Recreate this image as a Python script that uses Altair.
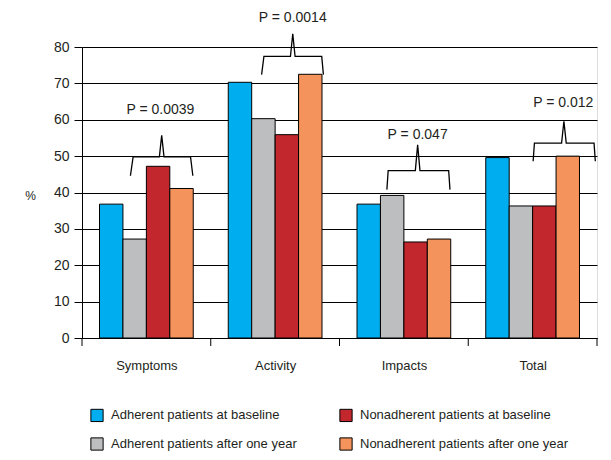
import altair as alt
import pandas as pd

categories = ["Symptoms", "Activity", "Impacts", "Total"]
series = [
    "Adherent patients at baseline",
    "Adherent patients after one year",
    "Nonadherent patients at baseline",
    "Nonadherent patients after one year",
]
adh_base = [36.8, 70.3, 36.8, 49.6]
adh_year = [27.2, 60.3, 39.2, 36.3]
non_base = [47.2, 55.9, 26.4, 36.3]
non_year = [41.1, 72.5, 27.2, 50.0]
colors = ["#00AEEF", "#BCBEC0", "#C1272D", "#F4935B"]

# p-value annotations (x in category units, y in %)
p_labels = ["P = 0.0039", "P = 0.0014", "P = 0.047", "P = 0.012"]
p_text_x = [0.609, 1.637, 2.607, 3.738]
p_text_y = [62.8, 88.0, 55.9, 64.7]
br_end_l = [0.376, 1.395, 2.368, 3.504]
br_hor_l = [0.397, 1.413, 2.378, 3.514]
br_mid = [0.619, 1.637, 2.607, 3.743]
br_hor_r = [0.843, 1.862, 2.848, 3.977]
br_end_r = [0.861, 1.875, 2.858, 3.987]
br_y = [49.8, 77.4, 46.0, 53.6]
br_y_end = [44.6, 72.4, 40.8, 48.6]
br_y_peak = [55.7, 83.6, 53.1, 59.6]

FONT = "Liberation Sans"
TXT = "#231F20"

rows = []
for si, (name, vals) in enumerate(zip(series, [adh_base, adh_year, non_base, non_year])):
    for ci, v in enumerate(vals):
        rows.append({"cat": categories[ci], "ci": ci, "si": si, "series": name, "value": v})
bars_df = pd.DataFrame(rows)

spike = 0.018
brows = []
for i in range(len(p_labels)):
    pts = [
        (br_end_l[i], br_y_end[i]),
        (br_hor_l[i], br_y[i]),
        (br_mid[i] - spike, br_y[i]),
        (br_mid[i], br_y_peak[i]),
        (br_mid[i] + spike, br_y[i]),
        (br_hor_r[i], br_y[i]),
        (br_end_r[i], br_y_end[i]),
    ]
    for k, (x, y) in enumerate(pts):
        brows.append({"b": i, "k": k, "x": x, "y": y})
br_df = pd.DataFrame(brows)
txt_df = pd.DataFrame({"label": p_labels, "x": p_text_x, "y": p_text_y})
sep_df = pd.DataFrame({"x": list(range(len(categories) + 1))})

label_expr = "datum.value < 1 ? 'Symptoms' : datum.value < 2 ? 'Activity' : datum.value < 3 ? 'Impacts' : 'Total'"

xscale = alt.Scale(domain=[0, 4], nice=False, zero=False)
yscale = alt.Scale(domain=[0, 80], nice=False)

xaxis = alt.Axis(
    values=[0.5, 1.5, 2.5, 3.5], labelExpr=label_expr, ticks=False, grid=False,
    domainColor="black", domainWidth=1, labelFont=FONT, labelFontSize=13,
    labelColor=TXT, labelPadding=21, title=None)
yaxis = alt.Axis(
    values=[0, 10, 20, 30, 40, 50, 60, 70, 80], tickSize=8, tickColor="black",
    domainColor="black", gridColor="black", gridWidth=1, gridOpacity=1,
    labelFont=FONT, labelFontSize=14, labelColor=TXT, labelPadding=5,
    labelOverlap=False,
    title="%", titleAngle=0, titleFont=FONT, titleFontSize=12,
    titleFontWeight="normal", titleColor=TXT, titleX=-52, titleY=148,
    titleAlign="center", titleBaseline="middle")

bars = alt.Chart(bars_df).transform_calculate(
    x0="datum.ci + 0.136 + datum.si * 0.182",
    x1="datum.ci + 0.136 + (datum.si + 1) * 0.182",
).mark_rect(stroke="black", strokeWidth=1).encode(
    x=alt.X("x0:Q", scale=xscale, axis=xaxis),
    x2="x1:Q",
    y=alt.Y("value:Q", scale=yscale, axis=yaxis),
    y2=alt.datum(0),
    color=alt.Color("series:N", scale=alt.Scale(domain=series, range=colors),
                    legend=alt.Legend(title=None, orient="none", legendX=8, legendY=361,
                                      columns=2, columnPadding=40, rowPadding=11,
                                      symbolType="square", symbolSize=150,
                                      symbolStrokeColor="black", symbolStrokeWidth=1,
                                      labelFont=FONT, labelFontSize=13, labelColor=TXT,
                                      labelOffset=7, labelLimit=400)),
)

seps = alt.Chart(sep_df).mark_rule(color="black", strokeWidth=1).encode(
    x=alt.X("x:Q", scale=xscale, axis=xaxis),
    y=alt.value(291),
    y2=alt.value(299),
)

brackets = alt.Chart(br_df).mark_line(color="black", strokeWidth=1.3, clip=False).encode(
    x=alt.X("x:Q", scale=xscale, axis=xaxis),
    y=alt.Y("y:Q", scale=yscale, axis=yaxis),
    detail="b:N",
    order="k:Q",
)

ptext = alt.Chart(txt_df).mark_text(font=FONT, fontSize=14, color=TXT, clip=False).encode(
    x=alt.X("x:Q", scale=xscale, axis=xaxis),
    y=alt.Y("y:Q", scale=yscale, axis=yaxis),
    text="label:N",
)

chart = alt.layer(bars, seps, brackets, ptext).properties(
    width=515, height=291,
    autosize=alt.AutoSizeParams(type="none"),
    padding={"left": 74, "top": 39, "right": 6, "bottom": 120},
).configure_view(stroke=None).configure(background="white")

chart.save("out.html", embed_options={"renderer": "svg", "actions": False})
